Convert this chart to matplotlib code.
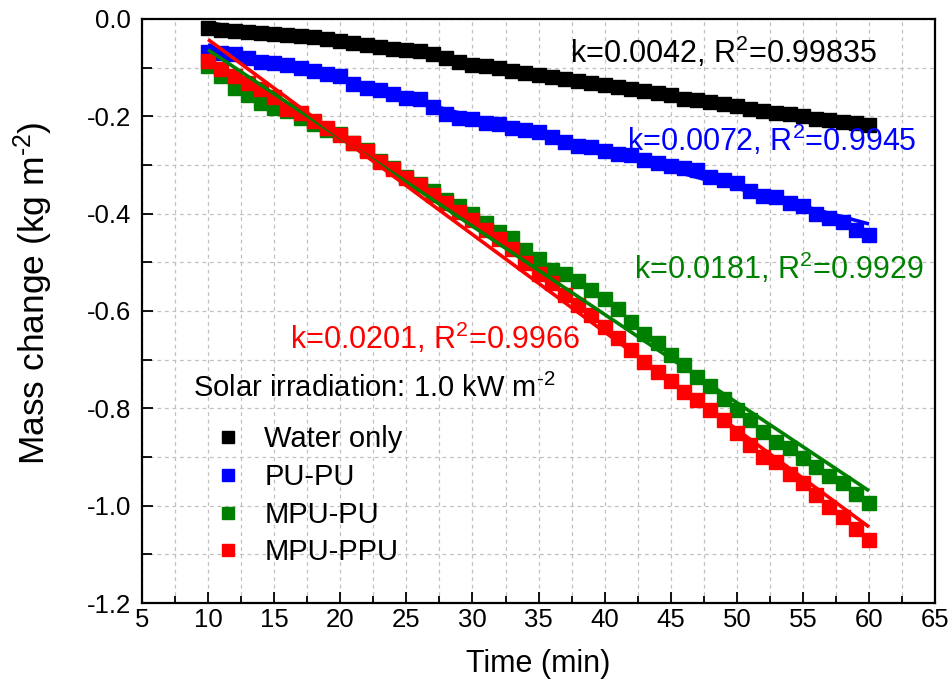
"""Mass change vs time for the evaporator samples, with linear fits."""
import numpy as np
import matplotlib
matplotlib.use("Agg")
import matplotlib.pyplot as plt  # noqa: E402
from matplotlib.ticker import MultipleLocator, FormatStrFormatter  # noqa: E402

plt.rcParams["font.family"] = ["Liberation Sans", "DejaVu Sans"]
plt.rcParams["mathtext.fontset"] = "custom"
plt.rcParams["mathtext.rm"] = "Liberation Sans"
plt.rcParams["mathtext.it"] = "Liberation Sans:italic"
plt.rcParams["axes.unicode_minus"] = False

time_min = list(range(10, 61))

water_only = [
    -0.018, -0.022, -0.025, -0.027, -0.029, -0.031, -0.034, -0.036, -0.038, -0.041,
    -0.046, -0.049, -0.053, -0.057, -0.061, -0.064, -0.066, -0.073, -0.080, -0.088,
    -0.094, -0.096, -0.100, -0.107, -0.112, -0.116, -0.120, -0.124, -0.128, -0.132,
    -0.136, -0.140, -0.144, -0.149, -0.153, -0.157, -0.164, -0.167, -0.170, -0.174,
    -0.179, -0.185, -0.190, -0.193, -0.196, -0.200, -0.205, -0.208, -0.212, -0.214,
    -0.218,
]
pu_pu = [
    -0.068, -0.070, -0.073, -0.081, -0.088, -0.090, -0.094, -0.101, -0.107, -0.114,
    -0.117, -0.133, -0.142, -0.146, -0.155, -0.162, -0.165, -0.181, -0.196, -0.203,
    -0.206, -0.213, -0.215, -0.225, -0.229, -0.232, -0.242, -0.252, -0.261, -0.263,
    -0.272, -0.277, -0.280, -0.290, -0.297, -0.303, -0.307, -0.311, -0.324, -0.330,
    -0.337, -0.353, -0.363, -0.365, -0.378, -0.385, -0.401, -0.410, -0.417, -0.433,
    -0.443,
]
mpu_pu = [
    -0.097, -0.117, -0.142, -0.157, -0.172, -0.183, -0.190, -0.203, -0.216, -0.228,
    -0.237, -0.255, -0.269, -0.292, -0.306, -0.324, -0.340, -0.354, -0.372, -0.385,
    -0.400, -0.420, -0.437, -0.451, -0.474, -0.494, -0.516, -0.524, -0.538, -0.557,
    -0.576, -0.595, -0.622, -0.648, -0.666, -0.691, -0.711, -0.735, -0.754, -0.780,
    -0.804, -0.823, -0.848, -0.869, -0.882, -0.903, -0.921, -0.939, -0.953, -0.975,
    -0.995,
]
mpu_ppu = [
    -0.086, -0.102, -0.118, -0.131, -0.144, -0.161, -0.185, -0.194, -0.209, -0.225,
    -0.238, -0.255, -0.272, -0.294, -0.309, -0.326, -0.342, -0.362, -0.379, -0.396,
    -0.413, -0.434, -0.453, -0.472, -0.502, -0.524, -0.543, -0.567, -0.588, -0.609,
    -0.632, -0.656, -0.680, -0.704, -0.725, -0.743, -0.766, -0.783, -0.804, -0.824,
    -0.851, -0.875, -0.899, -0.910, -0.934, -0.954, -0.978, -1.002, -1.023, -1.047,
    -1.071,
]

labels = ["Water only", "PU-PU", "MPU-PU", "MPU-PPU"]
fit_text = [
    "k=0.0042, R$^2$=0.99835",
    "k=0.0072, R$^2$=0.9945",
    "k=0.0181, R$^2$=0.9929",
    "k=0.0201, R$^2$=0.9966",
]

colors = ["#000000", "#0000ff", "#008000", "#ff0000"]
text_pos = [(37.4, -0.068), (41.7, -0.249), (42.2, -0.512), (16.2, -0.656)]

series = [water_only, pu_pu, mpu_pu, mpu_ppu]

fig = plt.figure(figsize=(9.51, 6.88), dpi=100)
ax = fig.add_axes([0.1493, 0.1235, 0.834, 0.849])

t = np.array(time_min, dtype=float)
handles = []
for ys, c, lab in zip(series, colors, labels):
    h, = ax.plot(t, ys, ls="none", marker="s", ms=9.5, color=c, mec=c, label=lab)
    handles.append(h)

# linear fits on top of the markers
for ys, c in zip(series, colors):
    slope, icpt = np.polyfit(t, ys, 1)
    tt = np.array([t.min(), t.max()])
    ax.plot(tt, slope * tt + icpt, color=c, lw=2.6, solid_capstyle="butt")

for (x, y), txt, c in zip(text_pos, fit_text, colors):
    ax.text(x, y, txt, color=c, fontsize=22, ha="left", va="center")

ax.set_xlim(5, 65)
ax.set_ylim(-1.2, 0.0)
ax.xaxis.set_major_locator(MultipleLocator(5))
ax.xaxis.set_minor_locator(MultipleLocator(2.5))
ax.yaxis.set_major_locator(MultipleLocator(0.2))
ax.yaxis.set_minor_locator(MultipleLocator(0.1))
ax.yaxis.set_major_formatter(FormatStrFormatter("%.1f"))
ax.tick_params(which="both", direction="in", top=False, right=False,
               labelsize=18.5, width=1.3)
ax.tick_params(which="major", length=8)
ax.tick_params(which="minor", length=5)
ax.tick_params(axis="y", which="minor", length=7)
ax.tick_params(axis="y", which="major", pad=8)
ax.grid(True, which="both", ls=(0, (3, 3)), color="#c0c0c0", lw=0.9)
ax.set_axisbelow(True)
for sp in ax.spines.values():
    sp.set_linewidth(1.6)

ax.set_xlabel("Time (min)", fontsize=22, labelpad=12)
ax.set_ylabel(r"Mass change (kg m$^{\text{-2}}$)", fontsize=25.5)
ax.yaxis.set_label_coords(-0.110, 0.53)

# legend title drawn separately so the gap below it can be set
ax.text(0.0643, 0.368, r"Solar irradiation: 1.0 kW m$^{\text{-2}}$",
        transform=ax.transAxes, fontsize=21, ha="left", va="center")
ax.legend(handles=handles, loc="upper left", bbox_to_anchor=(0.0643, 0.304),
          frameon=False, fontsize=21, handlelength=2.4, handletextpad=0.05,
          labelspacing=0.33, borderpad=0, borderaxespad=0, markerscale=0.95)

fig.savefig("out.png", dpi=100)
plt.close(fig)
